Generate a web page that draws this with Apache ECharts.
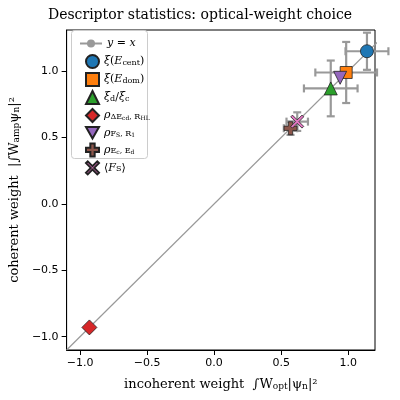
<!DOCTYPE html>
<html>
<head>
<meta charset="utf-8">
<script src="https://cdn.jsdelivr.net/npm/echarts@6/dist/echarts.min.js"></script>
<style>html,body{margin:0;padding:0;background:#fff}#c{width:400px;height:400px}</style>
</head>
<body>
<div id="c"></div>
<script>
// descriptor points: [x, y, xerr, yerr]
const names = ['xiCent', 'xiDom', 'xiRatio', 'rhoDE', 'rhoFs', 'rhoEcEd', 'meanFs'];
const points = [
  [1.14, 1.15, 0.16, 0.14],
  [0.985, 0.99, 0.23, 0.23],
  [0.87, 0.87, 0.20, 0.21],
  [-0.93, -0.93, 0, 0],
  [0.94, 0.95, 0, 0],
  [0.57, 0.57, 0.05, 0.05],
  [0.62, 0.62, 0.08, 0.07]
];
const tickValues = [-1, -0.5, 0, 0.5, 1];
const colors = ['#1f77b4', '#ff7f0e', '#2ca02c', '#d62728', '#9467bd', '#8c564b', '#e377c2'];
const plusPath = 'path://M-1,-3L1,-3L1,-1L3,-1L3,1L1,1L1,3L-1,3L-1,1L-3,1L-3,-1L-1,-1Z';
const xPath = 'path://M-2.2,-3L0,-0.8L2.2,-3L3,-2.2L0.8,0L3,2.2L2.2,3L0,0.8L-2.2,3L-3,2.2L-0.8,0L-3,-2.2Z';
const invTri = 'path://M0,0L2,0L1,1.75Z';
const symbols = ['circle', 'rect', 'triangle', 'diamond', invTri, plusPath, xPath];
const sizes = [13, 12, 13, 15, 13, 13, 13];
const labels = {
  'y=x': '{i|y} = {i|x}',
  xiCent: '{i|ξ}({i|E}{s|cent})',
  xiDom: '{i|ξ}({i|E}{s|dom})',
  xiRatio: '{i|ξ}{s|d}/{i|ξ}{s|c}',
  rhoDE: '{i|ρ}{s|ΔE}{ss|cd}{s|, R}{ss|HL}',
  rhoFs: '{i|ρ}{s|F}{ss|S}{s|, R}{ss|1}',
  rhoEcEd: '{i|ρ}{s|E}{ss|c}{s|, E}{ss|d}',
  meanFs: '⟨{i|F}{s|S}⟩'
};

const chart = echarts.init(document.getElementById('c'));

const errSeries = {
  type: 'custom',
  silent: true,
  z: 1,
  data: points.filter(p => p[2] > 0),
  renderItem: function (params, api) {
    const x = api.value(0), y = api.value(1), ex = api.value(2), ey = api.value(3);
    const l = api.coord([x - ex, y]), r = api.coord([x + ex, y]);
    const t = api.coord([x, y + ey]), b = api.coord([x, y - ey]);
    const st = { stroke: '#999', lineWidth: 2.2 };
    const c = 4;
    return {
      type: 'group',
      children: [
        { type: 'line', shape: { x1: l[0], y1: l[1], x2: r[0], y2: r[1] }, style: st },
        { type: 'line', shape: { x1: t[0], y1: t[1], x2: b[0], y2: b[1] }, style: st },
        { type: 'line', shape: { x1: l[0], y1: l[1] - c, x2: l[0], y2: l[1] + c }, style: st },
        { type: 'line', shape: { x1: r[0], y1: r[1] - c, x2: r[0], y2: r[1] + c }, style: st },
        { type: 'line', shape: { x1: t[0] - c, y1: t[1], x2: t[0] + c, y2: t[1] }, style: st },
        { type: 'line', shape: { x1: b[0] - c, y1: b[1], x2: b[0] + c, y2: b[1] }, style: st }
      ]
    };
  }
};

const series = [
  {
    name: 'y=x', type: 'line', data: [[-1.1, -1.1], [1.31, 1.31]], symbol: 'none',
    itemStyle: { color: '#999' }, lineStyle: { color: '#999', width: 1.2 }, z: 0, silent: true
  },
  errSeries
];
names.forEach((n, i) => {
  series.push({
    name: n, type: 'scatter', data: [points[i].slice(0, 2)],
    symbol: symbols[i], symbolSize: sizes[i],
    itemStyle: { color: colors[i], opacity: 1, borderColor: '#222', borderWidth: 0.8 }, z: 3
  });
});

const axisCommon = {
  type: 'value', min: -1.1,
  splitLine: { show: false },
  axisLine: { onZero: false, lineStyle: { color: '#000' } },
  axisTick: { show: true, customValues: tickValues, lineStyle: { color: '#000' } },
  axisLabel: {
    fontFamily: 'DejaVu Sans', fontSize: 11, color: '#000', customValues: tickValues,
    formatter: v => v.toFixed(1).replace('-', '−')
  },
  nameLocation: 'middle',
  nameTextStyle: {
    fontFamily: 'DejaVu Serif', fontSize: 13, color: '#000',
    rich: { s: { fontSize: 9, verticalAlign: 'bottom', fontFamily: 'DejaVu Serif' } }
  }
};

const legendText = {
  fontFamily: 'DejaVu Serif', fontSize: 11, color: '#000',
  rich: {
    i: { fontStyle: 'italic', fontFamily: 'DejaVu Serif', fontSize: 11 },
    s: { fontSize: 8, fontFamily: 'DejaVu Serif', verticalAlign: 'bottom' },
    ss: { fontSize: 6, fontFamily: 'DejaVu Serif', verticalAlign: 'bottom' }
  }
};

chart.setOption({
  backgroundColor: '#fff',
  title: {
    text: 'Descriptor statistics: optical-weight choice', left: 'center', top: 3,
    textStyle: { fontFamily: 'DejaVu Serif', fontSize: 14, fontWeight: 'normal', color: '#000' }
  },
  grid: { left: 64, right: 25, top: 30, bottom: 50, show: true, borderColor: '#000', borderWidth: 1 },
  xAxis: Object.assign({}, axisCommon, {
    max: 1.2, name: 'incoherent weight  ∫W{s|opt}|ψ{s|n}|²', nameGap: 28
  }),
  yAxis: Object.assign({}, axisCommon, {
    max: 1.31, name: 'coherent weight  |∫W{s|amp}ψ{s|n}|²', nameGap: 38
  }),
  graphic: [{
    type: 'rect', left: 71, top: 30, z: 50,
    shape: { width: 76, height: 128, r: 3 },
    style: { fill: '#fff', stroke: '#ccc', lineWidth: 1 }
  }],
  legend: [{
    data: ['y=x'], left: 74, top: 33, itemWidth: 22, itemHeight: 10, z: 60,
    formatter: n => labels[n], textStyle: legendText
  }, {
    data: names, orient: 'vertical', left: 80, top: 49, z: 60,
    itemWidth: 13, itemHeight: 13, itemGap: 3,
    formatter: n => labels[n], textStyle: legendText
  }],
  series: series
});
</script>
</body>
</html>
